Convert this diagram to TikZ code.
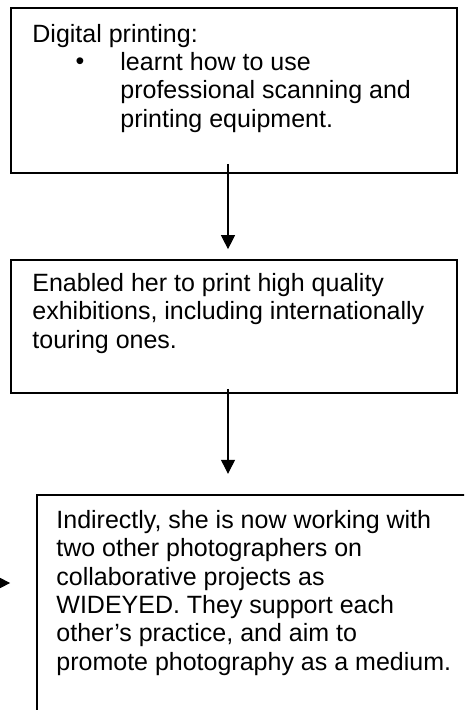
\documentclass[tikz,border=0pt]{standalone}
\usepackage{fontspec}
\setmainfont{Liberation Sans}
\usetikzlibrary{arrows.meta,calc}
\begin{document}
\begin{tikzpicture}[x=0.48pt,y=-0.48pt,
  box/.style={draw,line width=0.8pt,rectangle,inner sep=0},
  txt/.style={anchor=north west,inner sep=0,align=left,
    font=\fontsize{12}{13.6}\selectfont},
  arr/.style={line width=0.5pt,-{Triangle[length=6.7pt,width=6.7pt]}}]
\useasboundingbox (0,0) rectangle (464,710);
\clip (0,0) rectangle (464,710);

% the three boxes
\node[box,minimum width=446*0.48pt,minimum height=165*0.48pt] (box1) at (234,90.5) {};
\node[box,minimum width=446*0.48pt,minimum height=133*0.48pt] (box2) at (234,326.5) {};
\node[box,minimum width=453*0.48pt,minimum height=245*0.48pt] (box3) at (263.5,617.5) {};

% box texts
\node[txt] (t1) at (32,24) {Digital printing:};
\node[anchor=base,inner sep=0,font=\fontsize{12}{13.6}\selectfont] (b1) at (80,70) {\textbullet};
\node[txt] (t1b) at (120,52) {learnt how to use\\professional scanning and\\printing equipment.};
\node[txt] (t2) at (32,273) {Enabled her to print high quality\\exhibitions, including internationally\\touring ones.};
\node[txt] (t3) at (56,510) {Indirectly, she is now working with\\two other photographers on\\collaborative projects as\\WIDEYED. They support each\\other’s practice, and aim to\\promote photography as a medium.};

% connectors
\draw[arr] ($(box1.south)+(-6,-10)$) -- ($(box2.north)+(-6,-10)$);
\coordinate (a2end) at ($(box2.south)+(-6,80)$);
\draw[arr] ($(box2.south)+(-6,-5)$) -- (a2end);
\coordinate (lin) at (-30,583);
\coordinate (lout) at ($(box3.west |- lin)+(-26,0)$);
\draw[arr] (lin) -- (lout);
\end{tikzpicture}
\end{document}
